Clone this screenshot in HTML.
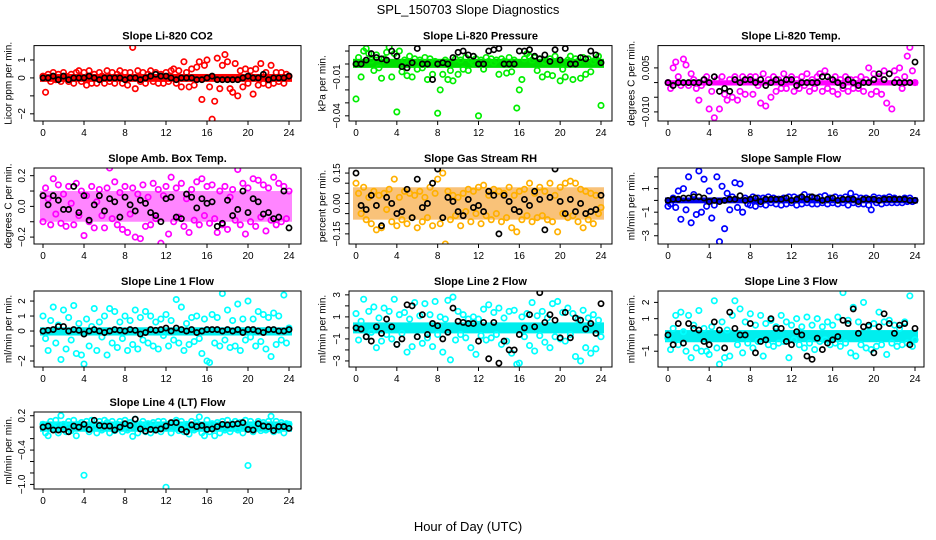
<!DOCTYPE html>
<html><head><meta charset="utf-8">
<style>
html,body{margin:0;padding:0;background:#fff;}
svg{display:block;font-family:"Liberation Sans",sans-serif;}
</style></head>
<body>
<svg id="fig" width="936" height="540" viewBox="0 0 936 540" xmlns="http://www.w3.org/2000/svg">
<rect x="0" y="0" width="936" height="540" fill="#fff"/>
<text x="468" y="14" text-anchor="middle" font-size="13">SPL_150703  Slope Diagnostics</text>
<text x="468" y="531" text-anchor="middle" font-size="13">Hour of Day (UTC)</text>
</svg>
<script>
const hoursQ=[0,0.25,0.5,0.75,1,1.25,1.5,1.75,2,2.25,2.5,2.75,3,3.25,3.5,3.75,4,4.25,4.5,4.75,5,5.25,5.5,5.75,6,6.25,6.5,6.75,7,7.25,7.5,7.75,8,8.25,8.5,8.75,9,9.25,9.5,9.75,10,10.25,10.5,10.75,11,11.25,11.5,11.75,12,12.25,12.5,12.75,13,13.25,13.5,13.75,14,14.25,14.5,14.75,15,15.25,15.5,15.75,16,16.25,16.5,16.75,17,17.25,17.5,17.75,18,18.25,18.5,18.75,19,19.25,19.5,19.75,20,20.25,20.5,20.75,21,21.25,21.5,21.75,22,22.25,22.5,22.75,23,23.25,23.5,23.75,24];
const hoursH=[0,0.5,1,1.5,2,2.5,3,3.5,4,4.5,5,5.5,6,6.5,7,7.5,8,8.5,9,9.5,10,10.5,11,11.5,12,12.5,13,13.5,14,14.5,15,15.5,16,16.5,17,17.5,18,18.5,19,19.5,20,20.5,21,21.5,22,22.5,23,23.5,24];
const xTicks=[0,4,8,12,16,20,24];

const co2Col=[0.1,-0.8,0.2,-0.2,0.3,-0.1,0.2,-0.2,0.3,0.1,-0.2,0.2,-0.3,0.3,0.4,-0.2,0.3,-0.4,0.4,-0.3,0.2,-0.3,0.3,0.1,-0.3,0.4,-0.2,0.3,-0.3,0.2,0.4,-0.3,0.3,-0.4,0.3,1.7,-0.6,0.4,-0.2,0.3,-0.3,0.2,0.4,-0.2,0.3,-0.3,0.2,-0.3,0.3,-0.2,0.4,0.5,-0.3,0.4,-0.5,0.9,0.3,-0.5,0.5,-0.4,0.6,0.9,-1.2,0.7,1.0,-0.5,-2.3,-1.3,1.1,-0.6,0.7,1.3,0.9,-0.6,-0.8,0.8,-1.0,0.4,-0.5,0.5,-0.3,0.4,-0.9,0.5,-0.4,0.8,-0.3,0.3,-0.4,0.7,-0.3,0.3,-0.2,0.3,-0.3,0.2,0.1];
const co2Blk=[0,0,0.1,-0.1,0.1,-0.1,0,0,0,0.1,0,-0.1,0,0,0,0,-0.1,0,0,-0.1,0,0.1,0.2,0.1,0.1,0,-0.1,0,0,0,-0.1,-0.1,0,0.1,-0.1,-0.1,-0.1,-0.1,-0.1,0,0.1,0,0,0.2,-0.1,0,0,0,0.1];
const presCol=[-0.027,0.005,-0.01,0.01,0.012,0.008,0.003,-0.005,0.007,-0.003,-0.011,0.004,0.009,0.013,-0.01,0.008,-0.037,0.01,-0.006,0.003,-0.009,0.006,-0.01,0.004,-0.004,0.003,-0.003,0.005,-0.012,0.004,-0.008,0.002,-0.038,-0.02,-0.008,0.003,-0.012,-0.005,-0.013,0.004,-0.008,0.003,-0.004,0.005,-0.005,0.003,0.001,0.004,-0.04,0.003,-0.004,0.005,0.002,0.004,0.001,0.003,-0.008,0.004,0.002,-0.007,0.005,-0.006,0.003,-0.034,-0.02,-0.012,0.004,0.008,0.006,0.003,0.005,-0.005,0.004,-0.01,0.002,-0.008,0.004,-0.009,0.006,-0.047,-0.013,-0.004,-0.01,0.003,0.006,-0.012,0.004,0.002,-0.011,0.005,-0.008,0.004,-0.006,0.002,0.004,0.006,-0.032];
const presBlk=[0,0,0.003,0.008,0.005,0.004,0.003,0.01,0.006,-0.002,-0.003,0.001,0.012,0,0,-0.012,0,0.001,0,0.005,0.009,0.01,0.007,0.006,0,0,0.01,0.011,0.012,0,0,0,0.01,0.01,0.011,0.006,0.004,0.007,0.002,0.011,0.003,0.012,0,0,0.005,0.004,0.01,0.007,0.001];
const ltempCol=[0,-0.002,0.005,0.007,0.002,-0.001,0.008,0.006,-0.001,0.003,0.001,-0.002,-0.006,-0.001,0.001,0.002,-0.009,-0.003,-0.012,0.001,-0.009,0.002,-0.004,-0.006,0.001,-0.005,0.002,-0.006,-0.003,0.002,-0.004,0.001,0.002,-0.004,0.002,-0.001,-0.007,0.003,-0.008,0.001,-0.005,0.002,-0.003,0.001,-0.002,0.003,-0.002,0.001,0.002,-0.003,0.001,-0.002,0.002,-0.001,0.003,-0.003,0.001,-0.002,0.002,0.003,-0.003,0.004,-0.002,0.001,-0.003,0.002,-0.004,0.001,-0.002,0.002,-0.003,0.001,-0.002,0.001,-0.002,0.002,-0.003,0.001,0.005,-0.004,0.003,-0.003,0.002,-0.004,0.004,-0.007,0.003,-0.009,0.004,0.001,0.005,-0.002,0.002,0.009,0.012,0.004,0];
const ltempBlk=[0,-0.001,0,0,0,0,0,0.001,0,0.002,-0.003,-0.002,-0.003,0.001,0,0.001,0.001,0,0.001,-0.001,0,0.001,0,0.001,0.001,-0.001,0,0,0,0,0.002,0.002,0.001,0,-0.001,0.001,0,-0.001,0,0,0.001,0.003,0.001,0.003,0,0,0,0,0.007];
const ambCol=[-0.1,0.12,0.05,-0.12,0.18,-0.05,0.14,-0.11,0.08,-0.13,0.13,0.02,-0.12,0.15,-0.06,0.1,-0.19,0.07,-0.1,0.13,-0.14,0.03,0.11,-0.06,-0.14,0.12,0.25,-0.08,0.16,-0.12,0.09,-0.15,0.13,-0.17,-0.05,0.12,-0.2,0.08,-0.21,0.14,-0.13,0.06,-0.12,0.15,-0.08,0.11,-0.24,0.07,0.13,-0.18,0.19,-0.1,0.12,-0.07,0.15,-0.13,0.05,-0.17,0.11,-0.09,0.16,-0.12,0.18,-0.06,0.13,-0.11,0.14,-0.08,-0.17,0.1,-0.12,0.13,-0.15,0.06,0.11,-0.09,0.24,-0.12,0.15,-0.18,0.12,-0.1,0.18,-0.13,0.17,-0.07,0.14,-0.16,0.12,-0.09,0.19,-0.12,0.15,-0.1,0.13,-0.08,0.1];
const ambBlk=[0.07,0.01,0.07,0.04,-0.02,-0.02,0.13,-0.04,0.07,-0.09,0.01,0.07,-0.03,0.05,0.03,-0.07,0.06,0.01,-0.03,0.04,0.02,-0.04,-0.06,-0.1,0.05,0.06,-0.07,-0.08,0.08,0.06,-0.01,0.05,0.02,0.03,-0.13,-0.11,0.04,-0.06,-0.02,0.1,-0.04,0.05,0.03,-0.05,-0.04,-0.08,-0.07,0.1,-0.14];
const rhCol=[0.1,0.05,-0.05,0.08,-0.08,0.03,-0.1,0.06,-0.13,0.04,-0.12,0.05,-0.03,0.07,-0.09,0.12,-0.11,0.03,-0.08,0.06,-0.1,0.05,-0.07,0.04,-0.12,0.06,-0.09,0.03,-0.07,0.08,-0.11,0.05,0.12,-0.1,0.15,-0.2,0.06,-0.08,0.04,-0.06,0.03,-0.11,0.05,-0.04,0.07,-0.09,0.06,-0.05,0.08,-0.1,0.09,-0.06,0.04,-0.08,0.07,-0.05,0.06,-0.09,0.05,-0.07,0.08,-0.12,0.04,-0.14,0.06,-0.08,0.07,-0.06,0.1,-0.09,0.05,-0.07,0.08,-0.06,0.06,-0.08,0.1,-0.09,0.04,-0.14,0.08,-0.05,0.1,-0.07,0.11,-0.06,0.1,-0.09,0.07,-0.12,0.06,-0.08,0.05,-0.1,0.04,-0.05,-0.02];
const rhBlk=[0.15,-0.01,-0.03,0.04,-0.01,-0.11,0.03,0,-0.05,-0.04,0.07,-0.07,0.12,-0.02,0,0.1,0.17,-0.07,0.03,0.01,-0.04,-0.06,0.02,-0.02,-0.01,-0.04,0.06,0.04,-0.15,0.04,0.01,-0.03,-0.04,0.02,-0.01,0.06,0.02,-0.13,0.03,0.17,0.01,-0.05,0.02,-0.04,0,-0.05,-0.04,-0.03,0.04];
const sampCol=[-0.5,-0.3,0.2,-0.6,0.8,-1.6,1.0,-0.8,2.0,-1.9,0.5,-1.2,2.5,-1.0,1.8,-0.5,0.8,-1.5,-0.4,2.0,-3.5,1.2,-2.4,0.6,-0.8,0.3,1.5,-0.6,1.4,-1.0,0.2,-0.3,-0.4,0.3,-0.5,0.2,-0.3,0.2,-0.4,0.3,-0.2,0.2,-0.3,0.1,-0.4,0.2,-0.3,0.3,-0.2,0.3,-0.4,0.2,-0.3,0.5,-0.2,0.3,-0.3,0.2,-0.3,0.3,-0.2,0.4,-0.3,0.2,-0.2,0.3,-0.3,0.2,-0.2,0.3,-0.4,0.6,-0.2,0.3,-0.3,0.2,-0.3,0.2,-0.4,-0.8,0.3,-0.2,0.2,-0.3,0.2,-0.2,0.3,-0.2,0.2,-0.2,0.1,-0.2,0.2,-0.1,0.2,-0.1,0];
const sampBlk=[0,0.1,0.1,0.2,0.2,0.3,0.3,0.2,-0.1,0,-0.1,0,0.1,0.1,0.4,0,0.1,0.2,-0.1,0.1,0.1,0.1,0.1,0.2,0,0.1,0.3,0.1,0.3,0.2,0,0.1,0.2,0,0.1,0.1,0.1,-0.1,0.1,0.1,0.1,0,0.1,0.1,0.1,0.1,0.1,0,0];
const l1Col=[1.0,-0.5,-1.3,0.7,1.6,-0.8,0.4,-1.9,1.4,-1.2,0.9,-0.6,1.7,-1.5,0.5,-1.6,-2.2,0.8,-1.0,0.3,1.5,-1.3,0.6,-0.4,1.0,-1.6,1.5,-0.8,1.3,-1.1,0.6,-0.5,1.0,-1.3,0.7,-0.9,1.4,-1.2,0.9,-0.6,1.3,-0.8,1.0,-1.0,0.6,-1.2,0.8,-0.3,1.1,-1.0,0.7,-0.6,2.1,-0.8,1.6,-1.3,0.5,-0.9,0.9,-0.7,1.0,-0.5,-1.5,0.8,-2.0,-2.1,1.1,-0.8,0.9,-1.0,2.5,-0.6,1.4,-1.1,0.7,-1.0,1.8,-1.3,0.8,-0.6,2.0,-0.4,0.8,-1.0,1.3,-0.7,1.1,-1.2,0.9,-1.7,1.2,-0.9,1.0,-0.6,2.4,-0.8,0.2];
const l1Blk=[0,0.05,0.1,0.3,0.3,0,0.1,0.05,-0.2,0,0.1,0,-0.1,0,0.1,0.05,0,0.1,0.05,-0.2,-0.1,0.1,0.05,0.1,0.2,0,0.2,0.1,0,0.1,-0.1,0,0.1,0.1,0.1,0,0.1,0,0.1,-0.1,0.1,0.1,0,-0.1,0.1,0.1,0,0,0.1];
const l2Col=[1.3,-1.1,0.6,2.6,-0.8,1.5,-0.4,1.9,-1.8,0.9,-1.2,1.8,-0.6,1.5,-1.0,2.6,-1.5,1.2,-0.5,1.4,-2.2,0.8,-1.7,2.3,-0.8,1.1,-1.4,2.2,-0.9,1.2,-1.7,2.4,-0.6,1.0,-2.2,0.8,2.5,-2.9,2.8,-1.1,1.5,-0.6,1.2,-0.9,0.8,-1.8,1.0,-2.4,0.8,-0.7,1.7,-1.1,2.1,-0.9,1.4,-0.6,1.8,-1.5,0.9,-1.2,1.5,-2.3,1.6,-3.3,-3.2,1.0,-0.8,1.3,-1.6,2.3,-2.1,1.1,-0.7,1.5,-1.3,0.9,-1.8,2.2,-0.8,2.4,-1.0,1.4,-1.2,1.8,-0.6,1.3,-2.6,0.8,-3.0,1.6,-1.8,0.9,-2.3,1.2,-1.9,0.7,-0.8];
const l2Blk=[0,-0.1,-0.8,-1.2,0.1,-0.5,0.8,0.1,-1.5,-1.0,2.1,2.0,-0.8,1.2,-0.6,0.4,0.2,-1.0,-0.4,1.8,0.6,0.5,0.4,0.4,-1.2,0.5,-2.8,0.5,-3.2,-1.2,-2.0,-2.0,-0.6,0,1.2,0.1,3.2,0.5,1.2,0.7,-0.9,1.4,-0.9,0.9,0.7,-0.1,0.4,-0.5,2.2];
const l3Col=[-0.2,-0.9,0.4,1.2,-0.6,1.4,0.2,-1.0,1.2,-1.4,0.6,-0.8,1.5,-1.0,0.4,-1.0,-1.2,0.5,2.1,-0.8,-1.8,0.8,-1.4,0.3,-1.3,1.2,2.1,-0.6,1.6,-1.1,0.8,-0.5,1.3,-0.8,0.6,-0.4,1.2,-1.3,0.7,-0.6,0.9,-0.7,0.5,-0.5,1.2,-0.4,0.8,-1.4,0.6,-0.3,1.0,-0.6,0.5,-0.8,1.1,-0.5,0.6,-0.9,1.0,-0.4,0.5,-0.3,0.8,-0.6,0.6,-0.5,1.1,-0.7,2.6,-0.5,0.9,-1.1,1.7,-1.3,0.8,-0.6,2.0,-0.8,0.5,-0.9,0.7,-0.7,1.4,-0.6,0.8,-1.2,0.9,-0.5,0.6,-0.7,0.4,-0.6,0.8,-0.5,2.4,-0.7,-0.3];
const l3Blk=[0,-0.6,0.7,-0.5,0.7,0.4,0.3,-0.4,-0.6,0.8,0.3,-0.8,1.4,0.4,0,0,0.7,-1.1,-0.4,-0.3,1.0,0.4,0.4,-0.4,-0.6,0.2,0,-1.3,-1.5,-0.2,-0.9,-0.5,-0.3,-0.1,0.9,0.7,1.6,0.1,0.5,0.6,-1.1,0.5,1.3,0.7,0.1,0.6,0.7,-0.6,0.4];
const l4Col=[0.05,-0.1,-0.15,0.1,0,0.12,-0.1,0.2,0.05,-0.08,0.1,-0.06,0.12,-0.15,0.05,0.08,-0.84,0.1,-0.08,0.12,0,-0.1,0.1,-0.05,0.12,0.08,-0.1,0.1,-0.06,0.05,0.1,-0.08,0.12,-0.05,0.08,-0.16,0.14,-0.1,0.05,0.1,-0.08,0.06,-0.1,0.08,-0.05,0.1,-0.08,0.1,-1.05,0.05,-0.1,0.08,0.12,-0.06,0.1,-0.08,0.05,-0.12,0.1,-0.05,0.08,0.18,-0.1,-0.15,0.12,-0.08,0.06,-0.15,0.08,-0.1,0.1,-0.05,0.12,-0.08,0.06,0.1,-0.05,0.08,-0.1,0.12,-0.67,0.1,-0.08,0.05,0.1,-0.06,0.08,-0.05,0.1,0.19,-0.08,0.1,-0.05,0.08,-0.1,0.06,0.05];
const l4Blk=[0,0.02,-0.05,-0.05,-0.04,-0.08,0.02,0,0.05,-0.04,0.12,0.03,0.02,0.02,-0.05,0,0.06,0.03,0.14,-0.03,-0.07,-0.04,-0.05,-0.03,0.02,0.08,0.08,-0.04,-0.08,0.04,0.01,0.03,-0.04,-0.03,0.01,0.05,0.04,0.05,0.06,0.08,-0.04,-0.05,0.06,0.02,0.01,-0.06,0.01,0.01,-0.02];

const coreCO2=[-0.22,0.22], corePres=[-0.003,0.004], coreLT=[-0.001,0.0008], coreAmb=[-0.1,0.1], coreRH=[-0.08,0.08], coreSamp=[-0.25,0.25], coreL1=[-0.3,0.25], coreL2=[-0.5,0.5], coreL3=[-0.45,0.3], coreL4=[-0.08,0.1];

const NS='http://www.w3.org/2000/svg';
const fig=document.getElementById('fig');
function mk(tag,attrs,parent){const e=document.createElementNS(NS,tag);for(const k in attrs)e.setAttribute(k,attrs[k]);(parent||fig).appendChild(e);return e;}

const cols=[{l:34,r:301,x0:43,x24:289,yl:9},{l:349,r:612,x0:356,x24:601,yl:323},{l:658,r:924,x0:668,x24:915,yl:632}];
const rows=[{t:45.6,b:121},{t:168,b:244},{t:291,b:367},{t:412,b:489}];

const panels=[
 {name:'co2',title:'Slope Li-820 CO2',ylab:'Licor ppm per min.',c:0,r:0,ymin:-2.4,ymax:1.8,ticks:[1,0,-1,-2],labels:['1','0','','\u22122'],col:co2Col,blk:co2Blk,core:coreCO2,color:'#ff0000',band:'#ff0000',bop:1},
 {name:'pressure',title:'Slope Li-820 Pressure',ylab:'kPa per min.',c:1,r:0,ymin:-0.044,ymax:0.0142,ticks:[0.01,0,-0.01,-0.02,-0.03,-0.04],labels:['','','\u22120.01','','','\u22120.04'],col:presCol,blk:presBlk,core:corePres,color:'#00ee00',band:'#00dd00',bop:1},
 {name:'li-temp',title:'Slope Li-820 Temp.',ylab:'degrees C per min.',c:2,r:0,ymin:-0.0131,ymax:0.0126,ticks:[0.005,0,-0.005,-0.01],labels:['0.005','','','\u22120.010'],col:ltempCol,blk:ltempBlk,core:coreLT,color:'#ff00ff',band:'#ff00ff',bop:1},
 {name:'amb-temp',title:'Slope Amb. Box Temp.',ylab:'degrees C per min.',c:0,r:1,ymin:-0.245,ymax:0.25,ticks:[0.2,0.1,0,-0.1,-0.2],labels:['0.2','','0.0','','\u22120.2'],col:ambCol,blk:ambBlk,core:coreAmb,color:'#ff00ff',band:'#ff33ff',bop:0.6},
 {name:'rh',title:'Slope Gas Stream RH',ylab:'percent per min.',c:1,r:1,ymin:-0.2,ymax:0.175,ticks:[0.15,0.1,0.05,0,-0.05,-0.1,-0.15],labels:['0.15','','','0.00','','','\u22120.15'],col:rhCol,blk:rhBlk,core:coreRH,color:'#ffb000',band:'#f59a20',bop:0.6},
 {name:'sample-flow',title:'Slope Sample Flow',ylab:'ml/min per min.',c:2,r:1,ymin:-3.7,ymax:2.75,ticks:[2,1,0,-1,-2,-3],labels:['','1','','\u22121','','\u22123'],col:sampCol,blk:sampBlk,core:coreSamp,color:'#0000ff',band:'#0000ee',bop:1},
 {name:'line1-flow',title:'Slope Line 1 Flow',ylab:'ml/min per min.',c:0,r:2,ymin:-2.4,ymax:2.67,ticks:[2,1,0,-1,-2],labels:['2','1','0','','\u22122'],col:l1Col,blk:l1Blk,core:coreL1,color:'#00ffff',band:'#00eeee',bop:1},
 {name:'line2-flow',title:'Slope Line 2 Flow',ylab:'ml/min per min.',c:1,r:2,ymin:-3.55,ymax:3.35,ticks:[3,2,1,0,-1,-2,-3],labels:['3','','1','','\u22121','','\u22123'],col:l2Col,blk:l2Blk,core:coreL2,color:'#00ffff',band:'#00eeee',bop:1},
 {name:'line3-flow',title:'Slope Line 3 Flow',ylab:'ml/min per min.',c:2,r:2,ymin:-1.97,ymax:2.7,ticks:[2,1,0,-1],labels:['2','1','','\u22121'],col:l3Col,blk:l3Blk,core:coreL3,color:'#00ffff',band:'#00eeee',bop:1},
 {name:'line4-flow',title:'Slope Line 4 (LT) Flow',ylab:'ml/min per min.',c:0,r:3,ymin:-1.08,ymax:0.265,ticks:[0.2,0,-0.2,-0.4,-0.6,-0.8,-1.0],labels:['0.2','','','\u22120.4','','','\u22121.0'],col:l4Col,blk:l4Blk,core:coreL4,color:'#00ffff',band:'#00eeee',bop:1}
];

panels.forEach(p=>{
  const C=cols[p.c],R=rows[p.r];
  const xs=h=>C.x0+(h/24)*(C.x24-C.x0);
  const ys=v=>R.b-(v-p.ymin)/(p.ymax-p.ymin)*(R.b-R.t);
  const g=mk('g',{});
  
  
  const cx=(C.l+C.r)/2;
  const t=mk('text',{x:cx,y:R.t-6,'text-anchor':'middle','font-size':'11','font-weight':'bold'},g);
  t.textContent=p.title;
  
  
  const yl=mk('text',{x:C.yl,y:(R.t+R.b)/2,'text-anchor':'middle','font-size':'10',transform:'rotate(-90 '+C.yl+' '+((R.t+R.b)/2)+')','dominant-baseline':'middle'},g);
  yl.textContent=p.ylab;
  
  
  const cid='clip-'+p.name;
  const cp=mk('clipPath',{id:cid},g);
  mk('rect',{x:C.l,y:R.t,width:C.r-C.l,height:R.b-R.t},cp);
  const pg=mk('g',{'clip-path':'url(#'+cid+')'},g);
  
  
  const band=mk('rect',{x:xs(0)-3,y:ys(p.core[1]),width:xs(24)-xs(0)+6,height:ys(p.core[0])-ys(p.core[1]),fill:p.band,opacity:p.bop},pg);
  
  
  const n1=Math.min(hoursQ.length,p.col.length);
  for(let i=0;i<n1;i++){
    const c=mk('circle',{cx:xs(hoursQ[i]),cy:ys(p.col[i]),r:2.7,fill:'none',stroke:p.color,'stroke-width':1.7},pg);
    
    
  }
  const n2=Math.min(hoursH.length,p.blk.length);
  for(let i=0;i<n2;i++){
    const c=mk('circle',{cx:xs(hoursH[i]),cy:ys(p.blk[i]),r:2.6,fill:'none',stroke:'#000','stroke-width':1.7},pg);
    
    
  }
  const box=mk('rect',{x:C.l,y:R.t,width:C.r-C.l,height:R.b-R.t,fill:'none',stroke:'#000','stroke-width':1},g);
  
  
  xTicks.forEach(h=>{
    mk('line',{x1:xs(h),x2:xs(h),y1:R.b,y2:R.b+4,stroke:'#000'},g);
    const tx=mk('text',{x:xs(h),y:R.b+15,'text-anchor':'middle','font-size':'10'},g);
    tx.textContent=String(h);
    
    
  });
  p.ticks.forEach((v,i)=>{
    const y=ys(v);
    mk('line',{x1:C.l-4,x2:C.l,y1:y,y2:y,stroke:'#000'},g);
    if(p.labels[i]){
      const lx=C.l-9;
      const ty=mk('text',{x:lx,y:y,'text-anchor':'middle','font-size':'10',transform:'rotate(-90 '+lx+' '+y+')'},g);
      ty.textContent=p.labels[i];
      
      
    }
  });
});
</script>
</body></html>
